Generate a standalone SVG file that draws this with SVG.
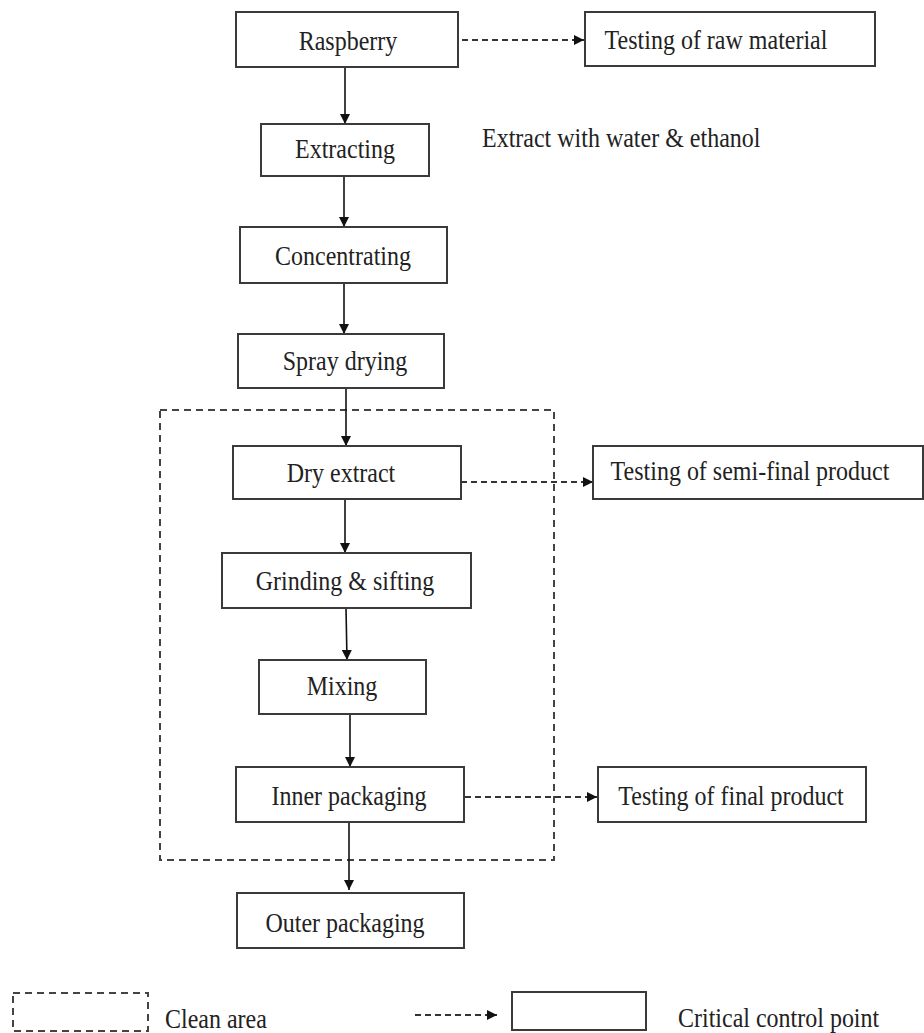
<svg xmlns="http://www.w3.org/2000/svg" width="924" height="1033" viewBox="0 0 924 1033">
<style>
.box{fill:#fff;stroke:#3a3a3a;stroke-width:2}
.lbl{font-family:"Liberation Serif","Times New Roman",serif;font-size:24px;fill:#222}
.mid{text-anchor:middle}
.solid{stroke:#111;stroke-width:1.6;fill:none}
.dash{stroke:#333;stroke-width:1.8;fill:none;stroke-dasharray:6 4}
.area{stroke:#444;stroke-width:2;fill:none;stroke-dasharray:7 5}
</style>
<defs>
<marker id="ah" viewBox="0 0 10 10" refX="10" refY="5" markerWidth="12" markerHeight="10" markerUnits="userSpaceOnUse" orient="auto">
<path d="M0,0 L10,5 L0,10 Z" fill="#111"/>
</marker>
</defs>
<rect width="924" height="1033" fill="#fff"/>

<g id="clean-area">
<rect class="area" x="160" y="410" width="394" height="450"/>
</g>

<g id="connectors">
<line class="solid" x1="345" y1="67" x2="345" y2="124" marker-end="url(#ah)"/>
<line class="solid" x1="344" y1="176" x2="344" y2="227" marker-end="url(#ah)"/>
<line class="solid" x1="344" y1="283" x2="344" y2="334" marker-end="url(#ah)"/>
<line class="solid" x1="346" y1="388" x2="346" y2="446" marker-end="url(#ah)"/>
<line class="solid" x1="345" y1="499" x2="345" y2="553" marker-end="url(#ah)"/>
<line class="solid" x1="346" y1="608" x2="347" y2="660" marker-end="url(#ah)"/>
<line class="solid" x1="350" y1="714" x2="350" y2="767" marker-end="url(#ah)"/>
<line class="solid" x1="349" y1="822" x2="349" y2="890" marker-end="url(#ah)"/>
<line class="dash" x1="462" y1="40" x2="584" y2="40" marker-end="url(#ah)"/>
<line class="dash" x1="461" y1="482" x2="593" y2="482" marker-end="url(#ah)"/>
<line class="dash" x1="465" y1="797" x2="597" y2="797" marker-end="url(#ah)"/>
</g>

<g id="raspberry">
<rect class="box" x="236" y="12" width="222" height="55"/>
<text class="lbl mid" transform="translate(348,50) scale(1,1.12)">Raspberry</text>
</g>
<g id="testing-raw">
<rect class="box" x="585" y="12" width="290" height="54"/>
<text class="lbl mid" transform="translate(716,49) scale(1,1.12)">Testing of raw material</text>
</g>
<g id="extracting">
<rect class="box" x="261" y="124" width="168" height="52"/>
<text class="lbl mid" transform="translate(345,158) scale(1,1.12)">Extracting</text>
</g>
<g id="extract-note">
<text class="lbl" transform="translate(482,147) scale(1,1.12)">Extract with water &amp; ethanol</text>
</g>
<g id="concentrating">
<rect class="box" x="240" y="227" width="207" height="56"/>
<text class="lbl mid" transform="translate(343,265) scale(1,1.12)">Concentrating</text>
</g>
<g id="spray-drying">
<rect class="box" x="238" y="334" width="206" height="54"/>
<text class="lbl mid" transform="translate(345,370) scale(1,1.12)">Spray drying</text>
</g>
<g id="dry-extract">
<rect class="box" x="233" y="446" width="228" height="53"/>
<text class="lbl mid" transform="translate(341,482) scale(1,1.12)">Dry extract</text>
</g>
<g id="testing-semi">
<rect class="box" x="593" y="446" width="330" height="53"/>
<text class="lbl mid" transform="translate(750,480) scale(1,1.12)">Testing of semi-final product</text>
</g>
<g id="grinding">
<rect class="box" x="222" y="553" width="249" height="55"/>
<text class="lbl mid" transform="translate(345,590) scale(1,1.12)">Grinding &amp; sifting</text>
</g>
<g id="mixing">
<rect class="box" x="259" y="660" width="167" height="54"/>
<text class="lbl mid" transform="translate(342,695) scale(1,1.12)">Mixing</text>
</g>
<g id="inner-packaging">
<rect class="box" x="236" y="767" width="228" height="55"/>
<text class="lbl mid" transform="translate(349,805) scale(1,1.12)">Inner packaging</text>
</g>
<g id="testing-final">
<rect class="box" x="598" y="767" width="268" height="55"/>
<text class="lbl mid" transform="translate(731,805) scale(1,1.12)">Testing of final product</text>
</g>
<g id="outer-packaging">
<rect class="box" x="237" y="893" width="227" height="55"/>
<text class="lbl mid" transform="translate(345,932) scale(1,1.12)">Outer packaging</text>
</g>

<g id="legend">
<rect class="area" x="13" y="993" width="135" height="38"/>
<text class="lbl" transform="translate(165,1028) scale(1,1.12)">Clean area</text>
<line class="dash" x1="415" y1="1015" x2="497" y2="1015" marker-end="url(#ah)"/>
<rect class="box" x="512" y="992" width="134" height="38"/>
<text class="lbl" transform="translate(678,1027) scale(1,1.12)">Critical control point</text>
</g>
</svg>
